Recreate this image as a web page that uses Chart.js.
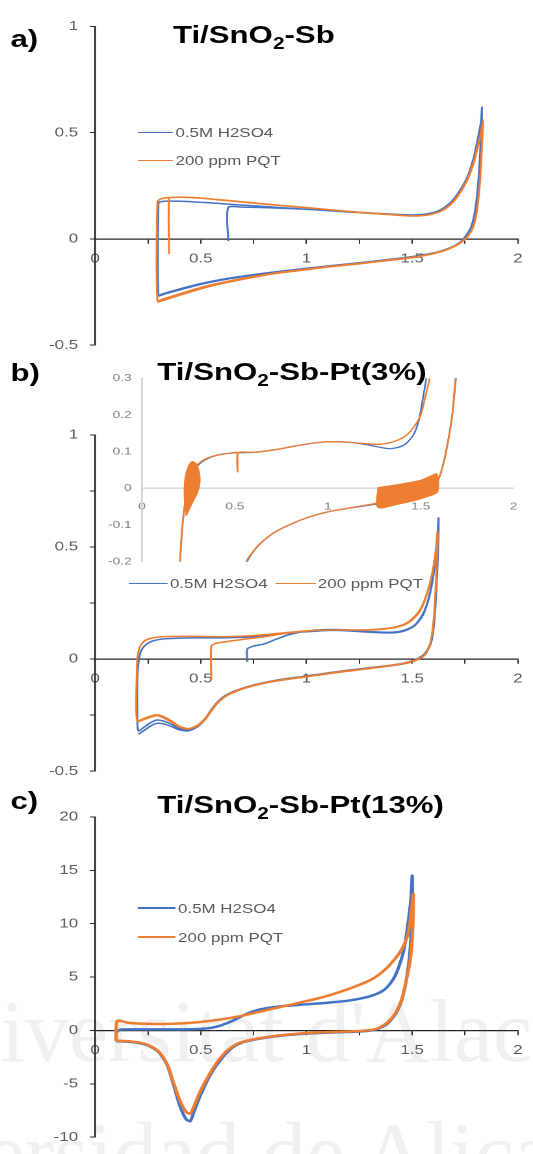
<!DOCTYPE html>
<html>
<head>
<meta charset="utf-8">
<script src="https://cdn.jsdelivr.net/npm/chart.js@4.4.1/dist/chart.umd.min.js"></script>
<style>
  html, body { margin: 0; padding: 0; background: #fff; }
  body { width: 533px; height: 1154px; overflow: hidden; position: relative; }
  .watermark { position: absolute; font-family: "Liberation Serif", serif; font-size: 88px; color: #f0f0f0; white-space: nowrap; line-height: 88px; }
  /* the source figure is stretched ~1.3x horizontally, so everything is drawn narrow and scaled */
  #stage { position: absolute; left: 0; top: 0; width: 410px; height: 1154px; transform: scaleX(1.3); transform-origin: 0 0; font-family: "Liberation Sans", Arial, sans-serif; }
  #stage canvas { position: absolute; left: 0; }
  .tag, .title { position: absolute; font-weight: bold; font-size: 24px; line-height: 24px; color: #000; white-space: nowrap; }
  .title sub { font-size: 16px; vertical-align: -6px; line-height: 0; }
  .key { position: absolute; display: flex; align-items: center; height: 16px; font-size: 13px; color: #595959; white-space: nowrap; }
  .key .swatch { display: inline-block; height: 0; margin-right: 2px; }
</style>
</head>
<body>
<div class="watermark" style="left:-107px; top:988px;">Universitat d'Alacant</div>
<div class="watermark" style="left:-190px; top:1110px;">Universidad de Alicante</div>
<div id="stage">
  <canvas id="chartA" width="410" height="362" style="top:0px"></canvas>
  <canvas id="chartB" width="410" height="410" style="top:378px"></canvas>
  <canvas id="chartInset" width="410" height="216" style="top:360px"></canvas>
  <canvas id="chartC" width="410" height="362" style="top:792px"></canvas>
  <div class="tag" style="left:8px; top:27px;">a)</div>
  <div class="title" style="left:133px; top:23px;">Ti/SnO<sub>2</sub>-Sb</div>
  <div class="tag" style="left:8px; top:361px;">b)</div>
  <div class="title" style="left:121px; top:360px;">Ti/SnO<sub>2</sub>-Sb-Pt(3%)</div>
  <div class="tag" style="left:8px; top:789px;">c)</div>
  <div class="title" style="left:121px; top:793px;">Ti/SnO<sub>2</sub>-Sb-Pt(13%)</div>
</div>
<script>
const labels = ["0.5M H2SO4", "200 ppm PQT"]
const colors = ["#4472C4", "#ED7D31"]

// a) Ti/SnO2-Sb : [E (V), j]
const aAcid = [
  [0.63,-0.01],[0.63,0.148],[0.7,0.15],[0.85,0.146],[1.0,0.14],[1.2,0.128],[1.4,0.117],[1.5,0.113],[1.57,0.118],[1.63,0.135],[1.68,0.17],[1.72,0.22],[1.76,0.29],[1.79,0.38],[1.81,0.47],[1.825,0.55],[1.83,0.62],
  [1.826,0.5],[1.815,0.3],[1.8,0.15],[1.78,0.06],[1.75,0.01],[1.72,-0.02],[1.67,-0.045],[1.6,-0.066],[1.5,-0.083],[1.4,-0.095],[1.25,-0.112],[1.1,-0.127],[1.0,-0.138],[0.85,-0.155],[0.75,-0.168],[0.6,-0.19],[0.5,-0.21],[0.4,-0.235],[0.32,-0.258],[0.3,-0.265],
  [0.3,0.168],[0.31,0.175],[0.35,0.178],[0.45,0.176],[0.6,0.166],[0.8,0.153],[1.0,0.14],[1.2,0.127],[1.4,0.116],[1.5,0.112],[1.57,0.117],[1.63,0.134],[1.68,0.168],[1.72,0.218],[1.76,0.288],[1.79,0.375],[1.81,0.46],[1.825,0.54],[1.83,0.6],
  [1.826,0.48],[1.815,0.29],[1.8,0.14],[1.78,0.055],[1.75,0.008],[1.72,-0.022],[1.67,-0.047],[1.6,-0.068],[1.5,-0.085],[1.4,-0.097],[1.25,-0.114],[1.1,-0.129],[1.0,-0.14],[0.85,-0.157],[0.75,-0.17],[0.6,-0.193],[0.5,-0.214],[0.4,-0.24],[0.32,-0.262],[0.3,-0.27]
]
const aPqt = [
  [0.35,-0.07],[0.35,0.19],[0.37,0.196],[0.45,0.196],[0.6,0.184],[0.8,0.165],[1.0,0.148],[1.2,0.13],[1.4,0.115],[1.5,0.109],[1.57,0.113],[1.63,0.13],[1.68,0.162],[1.72,0.21],[1.76,0.28],[1.79,0.36],[1.81,0.44],[1.827,0.51],[1.835,0.56],
  [1.83,0.45],[1.82,0.27],[1.805,0.13],[1.785,0.05],[1.755,0.005],[1.72,-0.022],[1.67,-0.047],[1.6,-0.068],[1.5,-0.086],[1.4,-0.098],[1.25,-0.115],[1.1,-0.13],[1.0,-0.142],[0.85,-0.16],[0.75,-0.176],[0.6,-0.205],[0.5,-0.228],[0.4,-0.258],[0.32,-0.283],[0.295,-0.29],
  [0.295,0.175],[0.31,0.188],[0.35,0.195],[0.45,0.195],[0.6,0.183],[0.8,0.164],[1.0,0.147],[1.2,0.129],[1.4,0.114],[1.5,0.108],[1.57,0.112],[1.63,0.128],[1.68,0.16],[1.72,0.207],[1.76,0.275],[1.79,0.355],[1.81,0.43],[1.827,0.5],[1.835,0.55],
  [1.83,0.44],[1.82,0.26],[1.805,0.125],[1.785,0.048],[1.755,0.003],[1.72,-0.024],[1.67,-0.049],[1.6,-0.07],[1.5,-0.088],[1.4,-0.1],[1.25,-0.117],[1.1,-0.132],[1.0,-0.145],[0.85,-0.163],[0.75,-0.18],[0.6,-0.21],[0.5,-0.235],[0.4,-0.265],[0.32,-0.29],[0.295,-0.298]
]

// b) Ti/SnO2-Sb-Pt(3%)
const bAcid = [
  [0.72,-0.012],[0.72,0.045],[0.75,0.058],[0.8,0.068],[0.86,0.09],[0.92,0.11],[1.0,0.125],[1.1,0.132],[1.2,0.13],[1.3,0.123],[1.4,0.12],[1.46,0.128],[1.51,0.15],[1.55,0.2],[1.58,0.28],[1.6,0.38],[1.615,0.5],[1.625,0.63],
  [1.622,0.5],[1.615,0.33],[1.605,0.18],[1.59,0.08],[1.56,0.025],[1.52,0.0],[1.45,-0.02],[1.3,-0.038],[1.15,-0.055],[1.0,-0.075],[0.85,-0.095],[0.75,-0.115],[0.68,-0.135],[0.62,-0.16],[0.58,-0.19],[0.55,-0.225],[0.52,-0.265],[0.48,-0.3],[0.44,-0.315],[0.4,-0.31],[0.36,-0.29],[0.32,-0.275],[0.29,-0.272],[0.26,-0.285],[0.23,-0.305],[0.205,-0.32],
  [0.2,-0.25],[0.2,-0.1],[0.205,-0.02],[0.215,0.03],[0.235,0.06],[0.27,0.08],[0.32,0.09],[0.45,0.095],[0.6,0.095],[0.75,0.1],[0.9,0.115],[1.0,0.122],[1.1,0.128],[1.2,0.126],[1.3,0.12],[1.4,0.117],[1.46,0.125],[1.51,0.148],[1.55,0.195],[1.58,0.275],[1.6,0.37],[1.615,0.49],[1.625,0.6],
  [1.622,0.48],[1.615,0.32],[1.605,0.17],[1.59,0.075],[1.56,0.02],[1.52,-0.004],[1.45,-0.023],[1.3,-0.041],[1.15,-0.058],[1.0,-0.078],[0.85,-0.098],[0.75,-0.118],[0.68,-0.138],[0.62,-0.163],[0.58,-0.194],[0.55,-0.23],[0.52,-0.27],[0.48,-0.305],[0.44,-0.32],[0.4,-0.316],[0.36,-0.3],[0.32,-0.288],[0.29,-0.287],[0.26,-0.3],[0.23,-0.32],[0.205,-0.335]
]
const bPqt = [
  [0.55,-0.09],[0.55,0.058],[0.57,0.07],[0.62,0.078],[0.7,0.088],[0.8,0.1],[0.9,0.115],[1.0,0.125],[1.1,0.13],[1.2,0.13],[1.3,0.13],[1.4,0.138],[1.46,0.152],[1.5,0.175],[1.54,0.22],[1.57,0.29],[1.595,0.38],[1.61,0.47],[1.62,0.57],
  [1.617,0.45],[1.61,0.3],[1.6,0.16],[1.585,0.07],[1.56,0.02],[1.52,-0.003],[1.45,-0.02],[1.3,-0.04],[1.15,-0.057],[1.0,-0.077],[0.85,-0.097],[0.75,-0.117],[0.68,-0.137],[0.62,-0.163],[0.58,-0.193],[0.55,-0.228],[0.52,-0.265],[0.48,-0.297],[0.44,-0.31],[0.4,-0.3],[0.36,-0.275],[0.32,-0.255],[0.29,-0.248],[0.26,-0.255],[0.23,-0.265],[0.2,-0.275],
  [0.195,-0.2],[0.197,-0.08],[0.2,0.0],[0.21,0.05],[0.23,0.078],[0.26,0.092],[0.32,0.1],[0.45,0.102],[0.6,0.1],[0.75,0.105],[0.9,0.118],[1.0,0.126],[1.1,0.13],[1.2,0.13],[1.3,0.131],[1.4,0.14],[1.46,0.155],[1.5,0.18],[1.54,0.225],[1.57,0.295],[1.595,0.385],[1.61,0.475],[1.62,0.56],
  [1.617,0.44],[1.61,0.29],[1.6,0.155],[1.585,0.068],[1.56,0.018],[1.52,-0.005],[1.45,-0.022],[1.3,-0.042],[1.15,-0.059],[1.0,-0.079],[0.85,-0.099],[0.75,-0.119],[0.68,-0.139],[0.62,-0.165],[0.58,-0.196],[0.55,-0.232],[0.52,-0.27],[0.48,-0.3],[0.44,-0.312],[0.4,-0.303],[0.36,-0.28],[0.32,-0.26],[0.29,-0.252],[0.26,-0.26],[0.23,-0.27],[0.2,-0.28]
]

// b) inset, zoom on the double layer region
const insetAcidUp = [
  [0.2,-0.25],[0.205,-0.2],[0.212,-0.14],[0.22,-0.09],[0.232,-0.04],[0.25,0.01],[0.27,0.04],[0.3,0.062],[0.34,0.078],[0.4,0.09],[0.5,0.097],[0.6,0.098],[0.7,0.104],[0.8,0.113],[0.9,0.122],[1.0,0.127],[1.1,0.126],[1.2,0.12],[1.27,0.113],[1.34,0.108],[1.41,0.118],[1.46,0.145],[1.49,0.185],[1.51,0.24],[1.53,0.3],[1.545,0.36]
]
const insetAcidDown = [
  [1.72,0.4],[1.69,0.3],[1.67,0.2],[1.64,0.11],[1.61,0.045],[1.58,0.012],[1.5,-0.013],[1.4,-0.027],[1.27,-0.042],[1.1,-0.055],[1.0,-0.064],[0.9,-0.078],[0.8,-0.098],[0.72,-0.118],[0.66,-0.14],[0.61,-0.165],[0.565,-0.2],[0.535,-0.24]
]
const insetPqtUp = [
  [0.2,-0.25],[0.205,-0.2],[0.212,-0.14],[0.22,-0.09],[0.232,-0.04],[0.25,0.01],[0.27,0.042],[0.3,0.065],[0.34,0.08],[0.4,0.09],[0.5,0.098],[0.512,0.098],[0.515,0.045],[0.518,0.097],[0.6,0.098],[0.7,0.104],[0.8,0.113],[0.9,0.122],[1.0,0.127],[1.1,0.126],[1.2,0.122],[1.27,0.12],[1.34,0.125],[1.41,0.14],[1.46,0.165],[1.5,0.2],[1.525,0.25],[1.548,0.3],[1.56,0.35]
]
const insetPqtDown = [
  [1.71,0.4],[1.687,0.3],[1.67,0.2],[1.64,0.108],[1.61,0.045],[1.585,0.015],[1.5,-0.012],[1.4,-0.025],[1.27,-0.04],[1.1,-0.055],[1.0,-0.064],[0.9,-0.078],[0.8,-0.098],[0.72,-0.118],[0.66,-0.14],[0.61,-0.165],[0.56,-0.2],[0.53,-0.24]
]
// envelopes of the noisy (oscillating) PQT segments
const insetNoiseLeft = [
  [0.238,-0.075],[0.228,-0.02],[0.233,0.03],[0.25,0.06],[0.27,0.073],[0.29,0.068],[0.305,0.05],[0.312,0.02],[0.3,-0.01],[0.275,-0.035],[0.252,-0.06],[0.238,-0.075]
]
const insetNoiseRight = [
  [1.27,0.002],[1.35,0.008],[1.42,0.014],[1.5,0.022],[1.56,0.035],[1.585,0.04],[1.595,0.02],[1.59,-0.01],[1.55,-0.02],[1.47,-0.033],[1.38,-0.043],[1.27,-0.052],[1.27,0.002]
]

// c) Ti/SnO2-Sb-Pt(13%)
const cAcid = [
  [0.1,-1.0],[0.1,-0.3],[0.11,0.0],[0.13,0.1],[0.2,0.1],[0.3,0.1],[0.4,0.1],[0.5,0.15],[0.55,0.25],[0.6,0.5],[0.65,0.9],[0.7,1.4],[0.75,1.8],[0.8,2.05],[0.9,2.3],[1.0,2.45],[1.1,2.6],[1.2,2.8],[1.3,3.2],[1.36,3.7],[1.4,4.5],[1.43,5.6],[1.46,7.5],[1.48,10.0],[1.495,12.5],[1.5,14.5],
  [1.5,12],[1.495,9],[1.485,6.5],[1.47,4.5],[1.45,2.8],[1.42,1.5],[1.38,0.6],[1.33,0.1],[1.25,-0.1],[1.1,-0.2],[1.0,-0.3],[0.9,-0.45],[0.8,-0.7],[0.7,-1.1],[0.65,-1.6],[0.6,-2.6],[0.55,-4.0],[0.5,-6.0],[0.47,-7.5],[0.45,-8.5],[0.43,-8.3],[0.4,-7.0],[0.37,-5.0],[0.34,-3.2],[0.3,-2.0],[0.25,-1.4],[0.2,-1.15],[0.15,-1.05],[0.1,-1.0]
]
const cPqt = [
  [0.1,-1.0],[0.105,0.9],[0.15,0.75],[0.2,0.65],[0.3,0.6],[0.4,0.65],[0.5,0.8],[0.6,1.05],[0.7,1.4],[0.8,1.85],[0.9,2.3],[1.0,2.75],[1.1,3.25],[1.2,3.9],[1.3,4.7],[1.36,5.5],[1.41,6.5],[1.45,7.6],[1.48,9],[1.495,11],[1.505,12.8],
  [1.505,11],[1.5,8.5],[1.49,6.5],[1.47,4.5],[1.45,2.9],[1.42,1.6],[1.38,0.7],[1.33,0.15],[1.25,-0.05],[1.1,-0.15],[1.0,-0.25],[0.9,-0.4],[0.8,-0.65],[0.7,-1.05],[0.65,-1.5],[0.6,-2.4],[0.55,-3.8],[0.5,-5.6],[0.47,-7.0],[0.45,-7.8],[0.43,-7.6],[0.4,-6.5],[0.37,-4.8],[0.34,-3.1],[0.3,-1.95],[0.25,-1.35],[0.2,-1.1],[0.15,-1.0],[0.1,-0.95]
]

const stage = document.getElementById("stage")
const fmt = v => String(Math.round(v * 100) / 100)

function curve(points, i, width, extra) {
  return Object.assign({
    data: points.map(([x, y]) => ({ x, y })),
    borderColor: colors[i],
    backgroundColor: colors[i],
    borderWidth: width,
    showLine: true,
    pointRadius: 0,
    tension: 0.25,
    order: i === 0 ? 1 : 0 // orange on top
  }, extra || {})
}

function cvChart(id, datasets, cfg) {
  const axisColor = cfg.axisColor || "#262626"
  const tickFont = { family: "'Liberation Sans', Arial, sans-serif", size: cfg.fontSize || 13 }
  return new Chart(document.getElementById(id), {
    type: "scatter",
    data: { datasets },
    options: {
      responsive: false,
      animation: false,
      devicePixelRatio: 2,
      layout: { padding: { top: cfg.padTop, bottom: cfg.padBottom, left: 0, right: 410 - cfg.right } },
      plugins: { legend: { display: false }, tooltip: { enabled: false } },
      scales: {
        x: {
          type: "linear",
          position: { y: 0 },
          min: 0, max: 2,
          grid: { display: cfg.ticks !== false, drawOnChartArea: false, drawTicks: cfg.ticks !== false, tickLength: 4, color: axisColor },
          border: { display: true, color: axisColor, width: 1.3 },
          ticks: {
            stepSize: cfg.xStep, autoSkip: false, maxRotation: 0,
            padding: cfg.xPad, color: cfg.tickColor || "#595959", font: tickFont,
            callback: v => (Math.abs(v * 2 - Math.round(v * 2)) < 1e-6 ? fmt(v) : "")
          }
        },
        y: {
          type: "linear",
          min: cfg.yMin, max: cfg.yMax,
          afterFit: s => { s.width = cfg.left },
          grid: { display: cfg.ticks !== false, drawOnChartArea: false, drawTicks: cfg.ticks !== false, tickLength: 4, color: axisColor },
          border: { display: true, color: axisColor, width: 1.3 },
          ticks: {
            stepSize: cfg.yStep, autoSkip: false,
            padding: cfg.yPad, color: cfg.tickColor || "#595959", font: tickFont,
            callback: v => (cfg.yLabelEvery && Math.abs(v / cfg.yLabelEvery - Math.round(v / cfg.yLabelEvery)) > 1e-6 ? "" : fmt(v))
          }
        }
      }
    }
  })
}

function addLegend(chart, spots, lineWidth) {
  chart.data.datasets.filter(d => d.label).forEach((d, i) => {
    const [x, y, w] = spots[i]
    const el = document.createElement("div")
    el.className = "key"
    el.style.left = x + "px"
    el.style.top = (y - 8) + "px"
    el.innerHTML = '<span class="swatch" style="width:' + w + "px;border-top:" + lineWidth + "px solid " + d.borderColor + '"></span>' + d.label
    stage.appendChild(el)
  })
}

const chartA = cvChart("chartA", [
  curve(aAcid, 0, 1.5, { label: labels[0] }),
  curve(aPqt, 1, 1.5, { label: labels[1] })
], { left: 73.1, right: 405.4, padTop: 26.5, padBottom: 10.5, yMin: -0.5, yMax: 1, yStep: 0.5, xStep: 0.25, xPad: 8, yPad: 9 })
addLegend(chartA, [[106, 132, 27], [106, 160, 27]], 1.4)

const chartB = cvChart("chartB", [
  curve(bAcid, 0, 1.5, { label: labels[0] }),
  curve(bPqt, 1, 1.5, { label: labels[1] })
], { left: 73.1, right: 405.4, padTop: 57, padBottom: 8, yMin: -0.5, yMax: 1, yStep: 0.25, yLabelEvery: 0.5, xStep: 0.25, xPad: 8, yPad: 9 })
addLegend(chartB, [[98.7, 583, 30], [211.5, 583, 31]], 1.4)

cvChart("chartInset", [
  curve(insetAcidUp, 0, 1.3),
  curve(insetAcidDown, 0, 1.3),
  curve(insetPqtUp, 1, 1.3),
  curve(insetPqtDown, 1, 1.3),
  curve(insetNoiseLeft, 1, 1, { fill: "shape", tension: 0.3 }),
  curve(insetNoiseRight, 1, 1, { fill: "shape", tension: 0.3 })
], { left: 109.2, right: 405.4, padTop: 18.3, padBottom: 14.3, yMin: -0.2, yMax: 0.3, yStep: 0.1, xStep: 0.5, xPad: 12, yPad: 8,
     ticks: false, axisColor: "#d0d0d0", tickColor: "#7f7f7f", fontSize: 10.5 })

const chartC = cvChart("chartC", [
  curve(cAcid, 0, 2.5, { label: labels[0] }),
  curve(cPqt, 1, 2.5, { label: labels[1] })
], { left: 73.1, right: 405.4, padTop: 25, padBottom: 9, yMin: -10, yMax: 20, yStep: 5, xStep: 0.25, xPad: 8, yPad: 9 })
addLegend(chartC, [[106, 908, 29], [106, 937, 29]], 2.6)
</script>
</body>
</html>
